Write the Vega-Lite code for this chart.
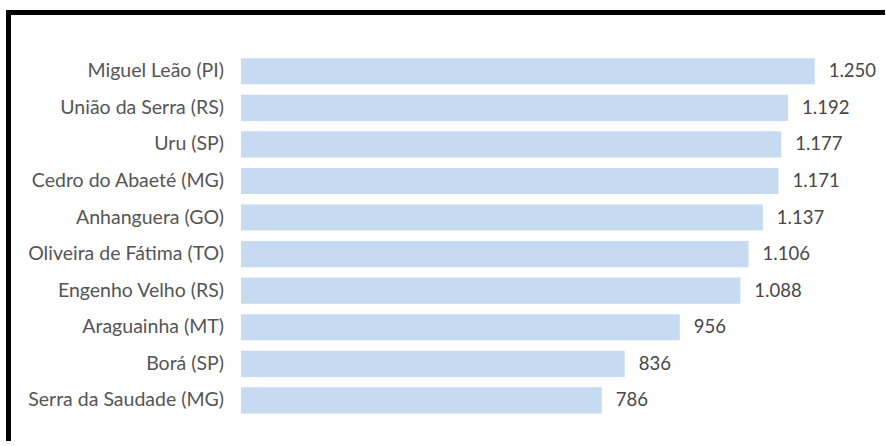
{
  "$schema": "https://vega.github.io/schema/vega-lite/v6.json",
  "width": 877.5,
  "height": 428.5,
  "autosize": {"type": "none"},
  "padding": {"left": 8.5, "top": 12.5, "right": 0, "bottom": 0},
  "background": "white",
  "config": {
    "view": {"stroke": null},
    "locale": {"number": {"decimal": ",", "thousands": ".", "grouping": [3], "currency": ["R$", ""]}},
    "text": {"font": "Lato"}
  },
  "data": {
    "values": [
      {"city": "Miguel Leão (PI)", "value": 1250},
      {"city": "União da Serra (RS)", "value": 1192},
      {"city": "Uru (SP)", "value": 1177},
      {"city": "Cedro do Abaeté (MG)", "value": 1171},
      {"city": "Anhanguera (GO)", "value": 1137},
      {"city": "Oliveira de Fátima (TO)", "value": 1106},
      {"city": "Engenho Velho (RS)", "value": 1088},
      {"city": "Araguainha (MT)", "value": 956},
      {"city": "Borá (SP)", "value": 836},
      {"city": "Serra da Saudade (MG)", "value": 786}
    ]
  },
  "layer": [
    {
      "layer": [
        {
          "mark": {"type": "bar", "color": "#c6dbf2"},
          "encoding": {
            "x": {
              "field": "value",
              "type": "quantitative",
              "axis": null,
              "scale": {"domain": [-506.5, 1405.3], "nice": false, "zero": false}
            },
            "x2": {"datum": 0}
          }
        },
        {
          "mark": {"type": "text", "align": "left", "baseline": "middle", "dx": 14, "fontSize": 18.5, "color": "#474747"},
          "encoding": {
            "x": {"field": "value", "type": "quantitative"},
            "text": {"field": "value", "type": "quantitative", "format": ",d"}
          }
        },
        {
          "mark": {"type": "text", "align": "right", "baseline": "middle", "dx": -17, "fontSize": 19.5, "color": "#555555"},
          "encoding": {
            "x": {"datum": 0, "type": "quantitative"},
            "text": {"field": "city", "type": "nominal"}
          }
        }
      ],
      "encoding": {
        "y": {
          "field": "city",
          "type": "nominal",
          "sort": {"field": "value", "order": "descending"},
          "axis": null,
          "scale": {"paddingInner": 0.285, "paddingOuter": 1.022, "align": 0.624}
        }
      }
    },
    {
      "mark": {"type": "rule", "color": "#000000", "strokeWidth": 5, "strokeCap": "square"},
      "encoding": {
        "x": {"datum": -506.5, "type": "quantitative"}
      }
    },
    {
      "mark": {"type": "rule", "color": "#000000", "strokeWidth": 5, "strokeCap": "butt"},
      "encoding": {
        "x": {"datum": -506.5, "type": "quantitative"},
        "x2": {"datum": 1403},
        "y": {"datum": 1, "type": "quantitative", "axis": null, "scale": {"domain": [0, 1], "nice": false, "zero": false}}
      }
    }
  ],
  "resolve": {"scale": {"y": "independent"}}
}
